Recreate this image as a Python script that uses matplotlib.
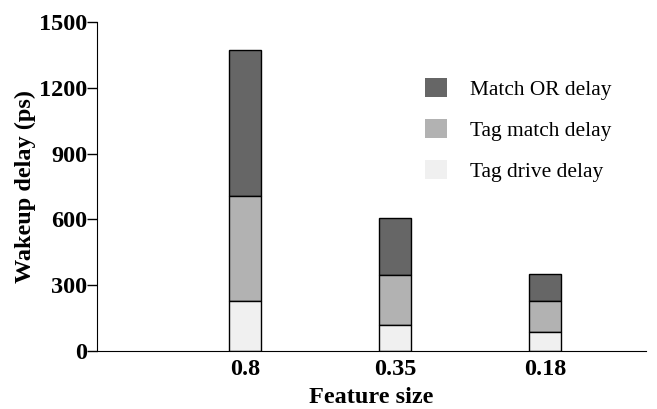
import matplotlib.pyplot as plt
import numpy as np

plt.rcParams['font.family'] = ['Liberation Serif', 'DejaVu Serif']

# feature sizes and delay components (ps)
sizes = ['0.8', '0.35', '0.18']
tag_drive = [228, 119, 87]
tag_match = [479, 228, 141]
match_or = [665, 259, 123]

x = np.arange(len(sizes))
fig = plt.figure(figsize=(6.57, 4.09), dpi=100)
ax = fig.add_axes([0.1476, 0.1418, 0.8354, 0.804])

w = 0.215
b1 = np.array(tag_drive)
b2 = b1 + np.array(tag_match)
ax.bar(x, match_or, w, bottom=b2, color='#666666', edgecolor='black', linewidth=1, label='Match OR delay')
ax.bar(x, tag_match, w, bottom=b1, color='#b2b2b2', edgecolor='black', linewidth=1, label='Tag match delay')
ax.bar(x, tag_drive, w, color='#f0f0f0', edgecolor='black', linewidth=1, label='Tag drive delay')

ax.set_xlim(-0.987, 2.67)
ax.set_ylim(0, 1500)
ax.set_yticks([0, 300, 600, 900, 1200, 1500])
ax.set_xticks(x)
ax.set_xticklabels(sizes)
ax.tick_params(axis='x', length=0, pad=6)
ax.tick_params(axis='y', length=7, width=1, pad=0)
for lab in ax.get_xticklabels() + ax.get_yticklabels():
    lab.set_fontsize(17.5)
    lab.set_fontweight('bold')
ax.spines['top'].set_visible(False)
ax.spines['right'].set_visible(False)
ax.set_xlabel('Feature size', fontsize=17.5, fontweight='bold', labelpad=5)
ax.set_ylabel('Wakeup delay (ps)', fontsize=17.5, fontweight='bold', labelpad=2)

leg = ax.legend(frameon=False, loc='upper left', bbox_to_anchor=(0.562, 0.89),
                fontsize=15.4, handlelength=1.03, handleheight=1.03, labelspacing=0.89,
                handletextpad=1.07)
for p in leg.get_patches():
    p.set_edgecolor('none')

fig.savefig('out.png', dpi=100)
